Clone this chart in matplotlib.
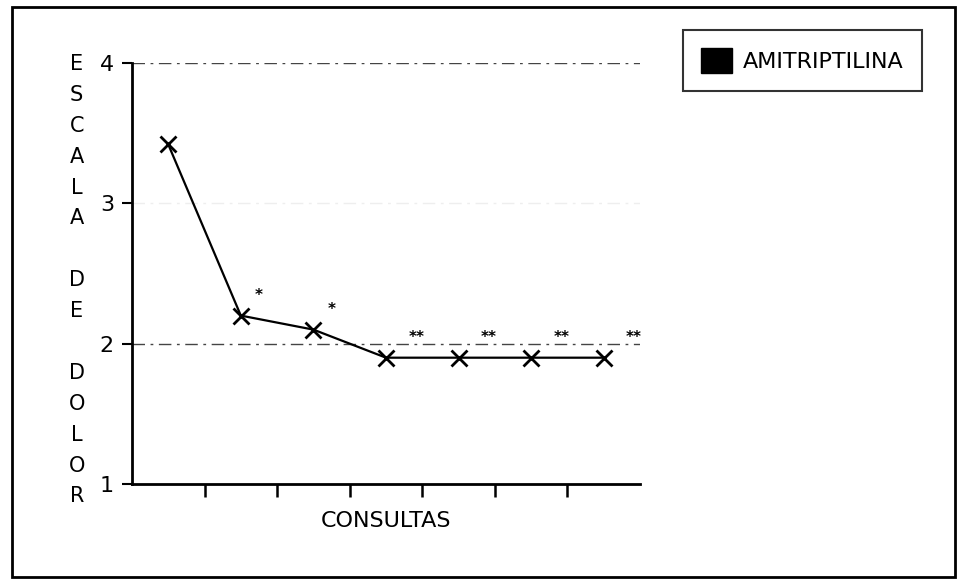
import matplotlib
matplotlib.use("Agg")
import matplotlib.pyplot as plt
from matplotlib.patches import Patch, Rectangle

# ---- data ----
series_name = "AMITRIPTILINA"
consultas = [1, 2, 3, 4, 5, 6, 7]
dolor = [3.42, 2.2, 2.1, 1.9, 1.9, 1.9, 1.9]
significance = ["", "*", "*", "**", "**", "**", "**"]
y_ticks = [1, 2, 3, 4]
x_label = "CONSULTAS"
y_label = "ESCALA DE DOLOR"

plt.rcParams['font.family'] = ['DejaVu Sans']

fig = plt.figure(figsize=(9.59, 5.79), dpi=100)
ax = fig.add_axes([0.1376, 0.1641, 0.6674 - 0.1376, 0.8912 - 0.1641])

xpos = list(range(len(consultas)))

# gridlines
for yv, col in zip(y_ticks[1:], ['#444444', '#eeeeee', '#444444']):
    ax.axhline(yv, color=col, lw=1.0, ls=(0, (9, 4, 2, 4)), zorder=1)

ax.plot(xpos, dolor, color='black', lw=1.6, marker='x', ms=12, mew=2.0, zorder=3)

for xi, yi, s in zip(xpos, dolor, significance):
    if s:
        ax.annotate(s, (xi, yi), xytext=(4 + 6 * len(s), 9), textcoords='offset points',
                    ha='left', va='bottom', fontsize=11, fontweight='bold')

ax.set_xlim(-0.5, len(consultas) - 0.5)
ax.set_ylim(1, 4)
ax.set_yticks(y_ticks)
ax.set_yticklabels([str(v) for v in y_ticks], fontsize=16)
ax.set_xticks([x + 0.5 for x in xpos[:-1]])
ax.set_xticklabels([])
ax.tick_params(axis='y', direction='out', length=7, width=1.5, pad=6)
ax.tick_params(axis='x', direction='out', length=9, width=1.8)
for sp in ['top', 'right']:
    ax.spines[sp].set_visible(False)
for sp in ['left', 'bottom']:
    ax.spines[sp].set_linewidth(2)
ax.set_xlabel(x_label, fontsize=16, labelpad=7)

# vertical letter-by-letter y label
fig.text(0.080, 0.516, "\n".join(list(y_label)),
         ha='center', va='center', fontsize=15, linespacing=1.68)

# legend
leg = fig.legend(handles=[Patch(facecolor='black', edgecolor='black', label=series_name)],
                 loc='upper left', bbox_to_anchor=(683 / 959, 1 - 30 / 579),
                 fontsize=16, frameon=True, fancybox=False, handlelength=1.4,
                 handleheight=1.4, borderpad=0.8, handletextpad=0.5,
                 borderaxespad=0)
leg.get_frame().set_edgecolor('black')
leg.get_frame().set_linewidth(1.5)

# figure border
fig.patches.append(Rectangle((0.0125, 0.003), 0.9835, 0.985, transform=fig.transFigure,
                             fill=False, edgecolor='black', lw=2))

fig.savefig("out.png", dpi=100)
